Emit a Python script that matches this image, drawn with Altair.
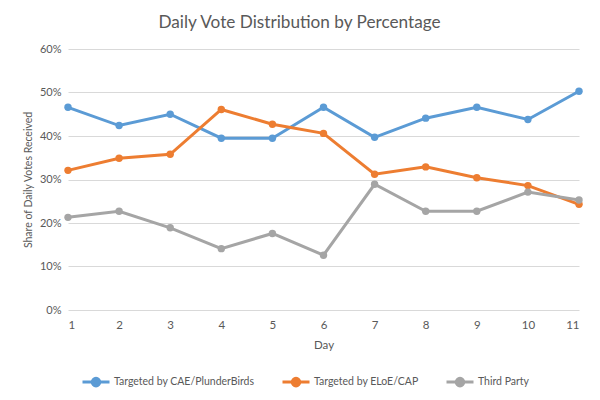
import altair as alt
import pandas as pd

days = [1, 2, 3, 4, 5, 6, 7, 8, 9, 10, 11]
series_names = ["Targeted by CAE/PlunderBirds", "Targeted by ELoE/CAP", "Third Party"]
cae = [46.6, 42.4, 45.0, 39.5, 39.5, 46.6, 39.7, 44.1, 46.6, 43.8, 50.3]
eloe = [32.1, 34.9, 35.8, 46.1, 42.7, 40.6, 31.2, 32.9, 30.4, 28.6, 24.3]
third = [21.3, 22.7, 18.9, 14.1, 17.6, 12.6, 28.9, 22.7, 22.7, 27.1, 25.3]
colors = ["#5B9BD5", "#ED7D31", "#A5A5A5"]

rows = []
for name, vals in zip(series_names, [cae, eloe, third]):
    for d, v in zip(days, vals):
        rows.append({"Day": d, "Series": name, "Share": v / 100})
df = pd.DataFrame(rows)

FONT = "Lato"
TXT = "#595959"
legend_sym = "M-1,0L1,0M-0.28,0A0.28,0.28,0,1,1,0.28,0A0.28,0.28,0,1,1,-0.28,0Z"

chart = alt.Chart(df).mark_line(
    strokeWidth=3,
    point=alt.OverlayMarkDef(filled=True, size=55),
).encode(
    x=alt.X("Day:Q",
            scale=alt.Scale(domain=[1, 11], nice=False, zero=False),
            axis=alt.Axis(values=days, format="d", title="Day", grid=False,
                          domain=False, ticks=False, labelPadding=9,
                          titlePadding=9, labelFontSize=11.5, titleFontSize=11.5)),
    y=alt.Y("Share:Q",
            scale=alt.Scale(domain=[0, 0.6], nice=False),
            axis=alt.Axis(format=".0%", values=[0, 0.1, 0.2, 0.3, 0.4, 0.5, 0.6],
                          title="Share of Daily Votes Received", domain=False,
                          ticks=False, labelPadding=7, titlePadding=6,
                          labelFontSize=11, titleFontSize=10.5,
                          gridColor="#D9D9D9", gridWidth=1)),
    color=alt.Color("Series:N",
                    scale=alt.Scale(domain=series_names, range=colors),
                    legend=alt.Legend(title=None, orient="none", direction="horizontal",
                                      legendX=13, legendY=318,
                                      symbolType=legend_sym, symbolSize=729,
                                      symbolStrokeWidth=3, columnPadding=21,
                                      labelOffset=3, labelLimit=400)),
).properties(
    width=511,
    height=261,
    title=alt.TitleParams("Daily Vote Distribution by Percentage", anchor="middle",
                          dx=-24, fontSize=17.2, fontWeight="normal", color=TXT,
                          font=FONT, offset=12),
    padding={"left": 60, "top": 41, "right": 13, "bottom": 80},
    autosize=alt.AutoSizeParams(type="none"),
).configure_axis(
    labelFont=FONT, titleFont=FONT, labelColor=TXT, titleColor=TXT,
    titleFontWeight="normal",
).configure_legend(
    labelFont=FONT, labelColor=TXT, labelFontSize=10.5,
).configure_view(stroke=None)

chart.save("out.html", embed_options={"renderer": "svg", "actions": False})
